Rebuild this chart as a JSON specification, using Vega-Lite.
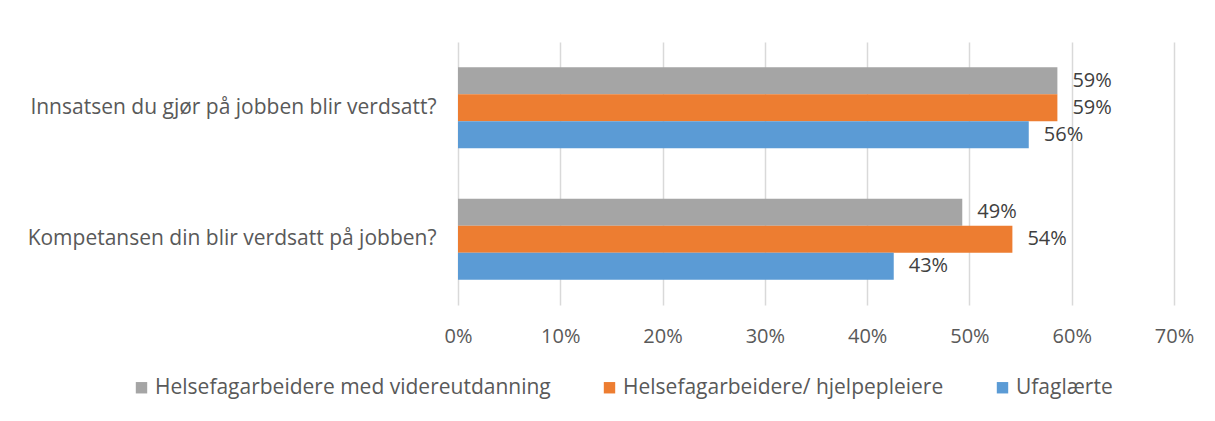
{
  "$schema": "https://vega.github.io/schema/vega-lite/v6.json",
  "autosize": "none",
  "padding": {"left": 458, "top": 42, "right": 41, "bottom": 116},
  "width": 716,
  "height": 263,
  "background": "white",
  "config": {
    "font": "Open Sans",
    "view": {"stroke": null},
    "axis": {"labelFont": "Open Sans", "labelFontSize": 20, "labelColor": "#595959"},
    "legend": {"labelFont": "Open Sans", "labelFontSize": 21, "labelColor": "#595959"}
  },
  "data": {
    "values": [
      {"q": "Innsatsen du gjør på jobben blir verdsatt?", "group": "Helsefagarbeidere med videreutdanning", "ord": 0, "v": 0.586},
      {"q": "Innsatsen du gjør på jobben blir verdsatt?", "group": "Helsefagarbeidere/ hjelpepleiere", "ord": 1, "v": 0.586},
      {"q": "Innsatsen du gjør på jobben blir verdsatt?", "group": "Ufaglærte", "ord": 2, "v": 0.558},
      {"q": "Kompetansen din blir verdsatt på jobben?", "group": "Helsefagarbeidere med videreutdanning", "ord": 0, "v": 0.493},
      {"q": "Kompetansen din blir verdsatt på jobben?", "group": "Helsefagarbeidere/ hjelpepleiere", "ord": 1, "v": 0.542},
      {"q": "Kompetansen din blir verdsatt på jobben?", "group": "Ufaglærte", "ord": 2, "v": 0.426}
    ]
  },
  "encoding": {
    "y": {
      "field": "q", "type": "nominal", "sort": null, "title": null,
      "scale": {"paddingInner": 0.384, "paddingOuter": 0.192},
      "axis": {"ticks": false, "domain": false, "labelPadding": 22, "labelLimit": 600, "labelFontSize": 21}
    },
    "yOffset": {"field": "ord", "type": "ordinal", "sort": "ascending", "scale": {"paddingInner": 0, "paddingOuter": 0}},
    "x": {
      "field": "v", "type": "quantitative", "title": null,
      "scale": {"domain": [0, 0.7], "nice": false},
      "axis": {"format": ".0%", "values": [0, 0.1, 0.2, 0.3, 0.4, 0.5, 0.6, 0.7], "ticks": false, "domain": false, "grid": true, "gridColor": "#d9d9d9", "gridWidth": 1.5, "labelPadding": 21, "labelFlush": false}
    }
  },
  "layer": [
    {
      "mark": {"type": "bar"},
      "encoding": {
        "color": {
          "field": "group", "type": "nominal", "title": null,
          "sort": ["Helsefagarbeidere med videreutdanning", "Helsefagarbeidere/ hjelpepleiere", "Ufaglærte"],
          "scale": {"domain": ["Helsefagarbeidere med videreutdanning", "Helsefagarbeidere/ hjelpepleiere", "Ufaglærte"], "range": ["#a5a5a5", "#ed7d31", "#5b9bd5"]},
          "legend": {"orient": "none", "direction": "horizontal", "legendX": -327, "legendY": 335, "symbolType": "square", "symbolSize": 130, "symbolStrokeWidth": 0, "symbolOpacity": 1, "labelOffset": 3, "labelLimit": 600, "columnPadding": 48}
        }
      }
    },
    {
      "mark": {"type": "text", "align": "left", "baseline": "middle", "dx": 15, "fontSize": 20, "color": "#404040", "font": "Open Sans"},
      "encoding": {
        "text": {"field": "v", "type": "quantitative", "format": ".0%"}
      }
    }
  ]
}
